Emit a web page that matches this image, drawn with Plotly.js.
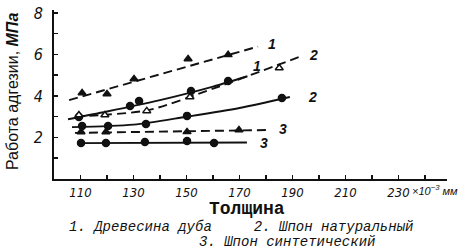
<!DOCTYPE html>
<html>
<head>
<meta charset="utf-8">
<script src="https://cdn.plot.ly/plotly-3.0.1.min.js"></script>
<style>html,body{margin:0;padding:0;background:#fff;}#chart{width:467px;height:249px;}</style>
</head>
<body>
<div id="chart"></div>
<script>
// ---- data ----
const xTickVals = [110, 130, 150, 170, 190, 210, 230];
const xTickText = ['110', '130', '150', '170', '190', '210', '230'];
const xMinorVals = [120, 140, 160, 180, 200, 220, 240];
const yTickVals = [2, 4, 6, 8];
const yTickText = ['2', '4', '6', '8'];
const yMinorVals = [1, 3, 5, 7];

// curve 1 (dashed, filled triangles)
const c1dX = [105.7, 177];
const c1dY = [3.8, 6.38];
const m1dX = [110.6, 120, 130.2, 150.6, 165.7];
const m1dY = [4.14, 4.1, 4.82, 5.78, 5.98];
// curve 1 (solid, circles)
const c1sX = [105.3, 120, 140, 160, 173];
const c1sY = [2.88, 3.25, 3.8, 4.45, 4.95];
const m1sX = [109.4, 128.7, 132.1, 151.7, 165.7];
const m1sY = [2.99, 3.52, 3.76, 4.24, 4.72];
// curve 2 (dashed, open triangles)
const c2dX = [108, 120, 136, 160, 194];
const c2dY = [3.02, 3.1, 3.33, 4.35, 5.95];
const m2dX = [109.4, 119.2, 135, 151.3, 185];
const m2dY = [3.08, 3.08, 3.28, 3.95, 5.35];
// curve 2 (solid, circles)
const c2sX = [106.8, 130, 150, 170, 189];
const c2sY = [2.5, 2.62, 3.0, 3.42, 3.95];
const m2sX = [110.6, 120.4, 134.7, 150.2, 186];
const m2sY = [2.55, 2.55, 2.65, 3.04, 3.9];
// curve 3 (dashed, filled triangles)
const c3dX = [107.9, 181.5];
const c3dY = [2.22, 2.36];
const m3dX = [110.2, 119.6, 150.2, 169.8];
const m3dY = [2.26, 2.26, 2.27, 2.36];
// curve 3 (solid, circles)
const c3sX = [108.7, 172.8];
const c3sY = [1.73, 1.76];
const m3sX = [110.2, 119.6, 134.3, 150.2, 160.4];
const m3sY = [1.73, 1.73, 1.78, 1.83, 1.73];

// curve labels
const labelText = ['1', '1', '2', '2', '3', '3'];
const labelX = [180, 174.5, 195.5, 195, 184, 177];
const labelY = [6.5, 5.45, 5.95, 3.97, 2.4, 1.73];

const legendLine1 = '1. Древесина дуба     2. Шпон натуральный';
const legendLine2 = '3. Шпон синтетический';
const xTitle = 'Толщина';
const yTitle = 'Работа адгезии, <i><b>МПа</b></i>';
const xUnit = '×10<sup>−3</sup> <i>мм</i>';

// ---- build ----
const DASH = '9px,5px';
function line(x, y, dash, shape) {
  return {x: x, y: y, mode: 'lines', type: 'scatter', hoverinfo: 'skip',
    line: {color: '#111', width: 1.9, dash: dash, shape: shape || 'spline', smoothing: 0.8}};
}
function marks(x, y, symbol, open) {
  return {x: x, y: y, mode: 'markers', type: 'scatter', hoverinfo: 'skip',
    marker: {symbol: symbol, size: 7, color: open ? '#fff' : '#111',
      line: {color: '#111', width: 1.5}}};
}
const traces = [
  line(c1dX, c1dY, DASH), marks(m1dX, m1dY, 'triangle-up'),
  line(c1sX, c1sY, 'solid'), marks(m1sX, m1sY, 'circle'),
  line(c2dX, c2dY, DASH), marks(m2dX, m2dY, 'triangle-up', true),
  line(c2sX, c2sY, 'solid'), marks(m2sX, m2sY, 'circle'),
  line(c3dX, c3dY, DASH), marks(m3dX, m3dY, 'triangle-up'),
  line(c3sX, c3sY, 'solid'), marks(m3sX, m3sY, 'circle')
];

const tickFont = {family: 'Liberation Sans Narrow, DejaVu Sans Condensed, Liberation Sans, sans-serif', size: 13, color: '#111', style: 'italic'};
const annotations = labelText.map((t, i) => ({
  x: labelX[i], y: labelY[i], xref: 'x', yref: 'y', text: t, showarrow: false,
  xanchor: 'left', yanchor: 'middle',
  font: {family: 'Liberation Sans, sans-serif', size: 14, color: '#111', style: 'italic', weight: 'bold'}
}));
annotations.push(
  {x: 0.49, y: -0.175, xref: 'paper', yref: 'paper', text: xTitle, showarrow: false,
    xanchor: 'center', yanchor: 'middle',
    font: {family: 'Liberation Mono, monospace', size: 18, color: '#111', weight: 'bold'}},
  {x: -0.107, y: 0.52, xref: 'paper', yref: 'paper', text: yTitle, showarrow: false, textangle: -90,
    xanchor: 'center', yanchor: 'middle',
    font: {family: 'Liberation Sans, Arial, sans-serif', size: 16, color: '#111'}},
  {x: 0.905, y: -0.068, xref: 'paper', yref: 'paper', text: xUnit, showarrow: false,
    xanchor: 'left', yanchor: 'middle',
    font: {family: 'Liberation Sans Narrow, Liberation Sans, sans-serif', size: 11, color: '#111', style: 'italic'}},
  {x: 0.033, y: -0.284, xref: 'paper', yref: 'paper', text: legendLine1.replace(/ /g, '&nbsp;'), showarrow: false,
    xanchor: 'left', yanchor: 'middle',
    font: {family: 'Liberation Mono, monospace', size: 14, color: '#111', style: 'italic'}},
  {x: 0.364, y: -0.373, xref: 'paper', yref: 'paper', text: legendLine2.replace(/ /g, '&nbsp;'), showarrow: false,
    xanchor: 'left', yanchor: 'middle',
    font: {family: 'Liberation Mono, monospace', size: 14, color: '#111', style: 'italic'}}
);

const layout = {
  width: 467, height: 249,
  margin: {l: 54, r: 20, t: 10, b: 70},
  paper_bgcolor: '#fff', plot_bgcolor: '#fff',
  showlegend: false,
  xaxis: {
    range: [100, 248.3], showgrid: false, zeroline: false,
    showline: true, linecolor: '#111', linewidth: 2,
    ticks: 'inside', ticklen: 4, tickwidth: 1.5, tickcolor: '#111',
    tickmode: 'array', tickvals: xTickVals, ticktext: xTickText,
    minor: {tickmode: 'array', tickvals: xMinorVals, ticks: 'inside', ticklen: 4, tickwidth: 1.5, tickcolor: '#111'},
    tickfont: tickFont
  },
  yaxis: {
    range: [0, 8.14], showgrid: false, zeroline: false,
    showline: true, linecolor: '#111', linewidth: 2,
    ticks: 'inside', ticklen: 4, tickwidth: 1.5, tickcolor: '#111',
    tickmode: 'array', tickvals: yTickVals, ticktext: yTickText,
    minor: {tickmode: 'array', tickvals: yMinorVals, ticks: 'inside', ticklen: 4, tickwidth: 1.5, tickcolor: '#111'},
    tickfont: Object.assign({}, tickFont, {size: 16}),
    ticklabelstandoff: 6
  },
  annotations: annotations
};

Plotly.newPlot('chart', traces, layout, {staticPlot: true, displayModeBar: false});
</script>
</body>
</html>
